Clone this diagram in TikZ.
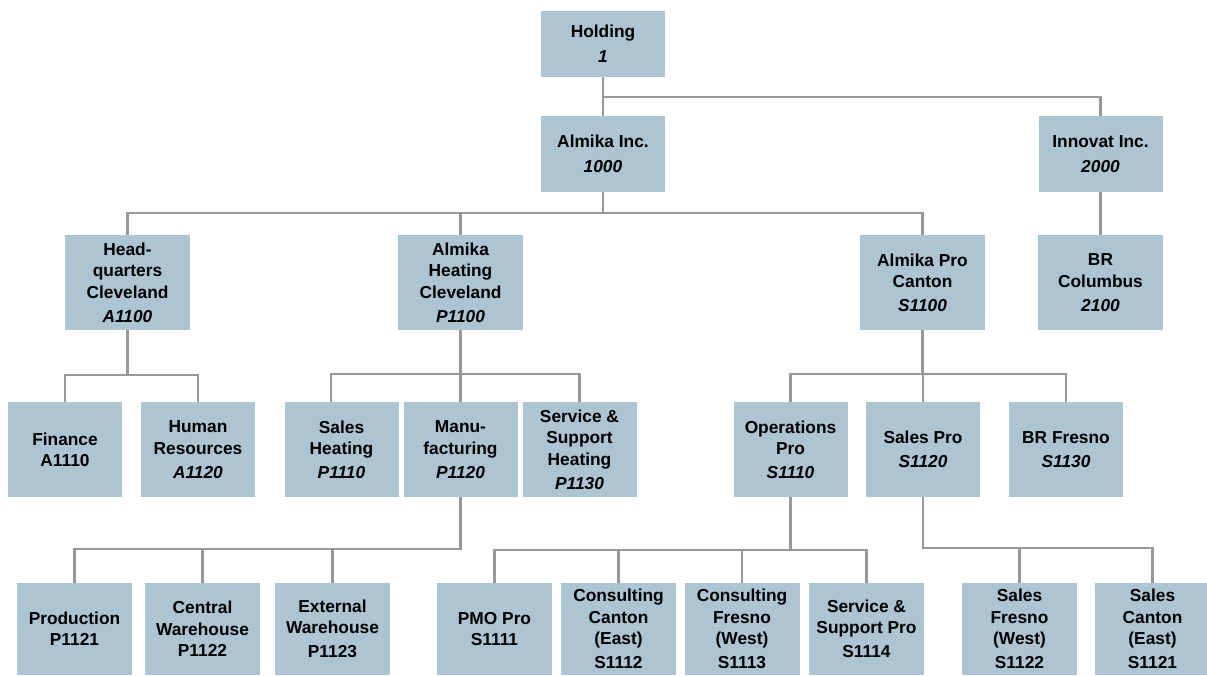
\documentclass[tikz,border=0pt]{standalone}
\usepackage{fontspec}
\setmainfont{Liberation Sans}
\definecolor{boxblue}{RGB}{173,196,210}
\definecolor{linegray}{RGB}{152,152,152}
\begin{document}
\begin{tikzpicture}[x=0.75pt,y=0.75pt,yscale=-1,xscale=1,
  unit/.style={fill=boxblue, inner sep=0pt, align=center, font=\bfseries\fontsize{13}{16}\selectfont},
  top/.style={unit, minimum width=93pt, minimum height=49.5pt},
  co/.style={unit, minimum width=93pt, minimum height=57pt},
  site/.style={unit, minimum width=93.75pt, minimum height=71.25pt},
  dept/.style={unit, minimum width=85.5pt, minimum height=71.25pt},
  team/.style={unit, minimum width=86.25pt, minimum height=69pt},
  wire/.style={draw=linegray, line width=1.8pt}]
\useasboundingbox (0,0) rectangle (1207,675);
% Holding and companies
\node [top] (hold) at (603,44) {Holding\\[2.5pt]\textit{1}};
\node [co] (almika) at (603,154) {Almika Inc.\\[2.5pt]\textit{1000}};
\node [co] (innovat) at (1100.5,154) {Innovat Inc.\\[2.5pt]\textit{2000}};
% Sites
\node [site] (hq) at (127.5,282.5) {Head-\\quarters\\Cleveland\\[2pt]\textit{A1100}};
\node [site] (aheat) at (460.5,282.5) {Almika\\Heating\\Cleveland\\[2pt]\textit{P1100}};
\node [site] (apro) at (922.5,282.5) {Almika Pro\\Canton\\[2pt]\textit{S1100}};
\node [site] (brcol) at (1100.5,282.5) {BR\\Columbus\\[2pt]\textit{2100}};
% Departments
\node [dept] (fin) at (65,449.5) {Finance\\A1110};
\node [dept] (hr) at (198,449.5) {Human\\Resources\\[2pt]\textit{A1120}};
\node [dept] (sheat) at (341.5,449.5) {Sales\\Heating\\[2pt]\textit{P1110}};
\node [dept] (manu) at (460.5,449.5) {Manu-\\facturing\\[2pt]\textit{P1120}};
\node [dept] (sserv) at (579.5,449.5) {Service \&\\Support\\Heating\\[2pt]\textit{P1130}};
\node [dept] (opspro) at (790.5,449.5) {Operations\\Pro\\[2pt]\textit{S1110}};
\node [dept] (salespro) at (923,449.5) {Sales Pro\\[2pt]\textit{S1120}};
\node [dept] (brfres) at (1066,449.5) {BR Fresno\\[2pt]\textit{S1130}};
% Teams
\node [team] (prod) at (74.5,629) {Production\\P1121};
\node [team] (cwh) at (202.5,629) {Central\\Warehouse\\P1122};
\node [team] (ewh) at (332.5,629) {External\\Warehouse\\[2pt]P1123};
\node [team] (pmo) at (494.5,629) {PMO Pro\\S1111};
\node [team] (ccant) at (618.5,629) {Consulting\\Canton\\(East)\\[2pt]S1112};
\node [team] (cfres) at (742,629) {Consulting\\Fresno\\(West)\\[2pt]S1113};
\node [team] (sspro) at (866.5,629) {Service \&\\Support Pro\\[2pt]S1114};
\node [team] (sfres) at (1019.5,629) {Sales\\Fresno\\(West)\\[2pt]S1122};
\node [team] (scant) at (1152.5,629) {Sales\\Canton\\(East)\\[2pt]S1121};
% Connectors
\draw [wire] (hold) -- (almika);
\draw [wire] (hold.south) ++(0,20) -| (innovat.north);
\draw [wire] (innovat) -- (brcol);
\foreach \c in {hq,aheat,apro} \draw [wire] (almika.south) -- ++(0,21) -| (\c.north);
\foreach \c in {fin,hr} \draw [wire] (hq.south) -- ++(0,45) -| (\c.north);
\draw [wire] (aheat.south) -- ++(0,44) -| ([xshift=-8pt]sheat.north);
\foreach \c in {manu,sserv} \draw [wire] (aheat.south) -- ++(0,44) -| (\c.north);
\foreach \c in {opspro,salespro,brfres} \draw [wire] (apro.south) -- ++(0,44) -| (\c.north);
\foreach \c in {prod,cwh,ewh} \draw [wire] (manu.south) -- ++(0,52) -| (\c.north);
\foreach \c in {pmo,ccant,cfres,sspro} \draw [wire] (opspro.south) -- ++(0,53) -| (\c.north);
\foreach \c in {sfres,scant} \draw [wire] (salespro.south) -- ++(0,51) -| (\c.north);
\end{tikzpicture}
\end{document}
